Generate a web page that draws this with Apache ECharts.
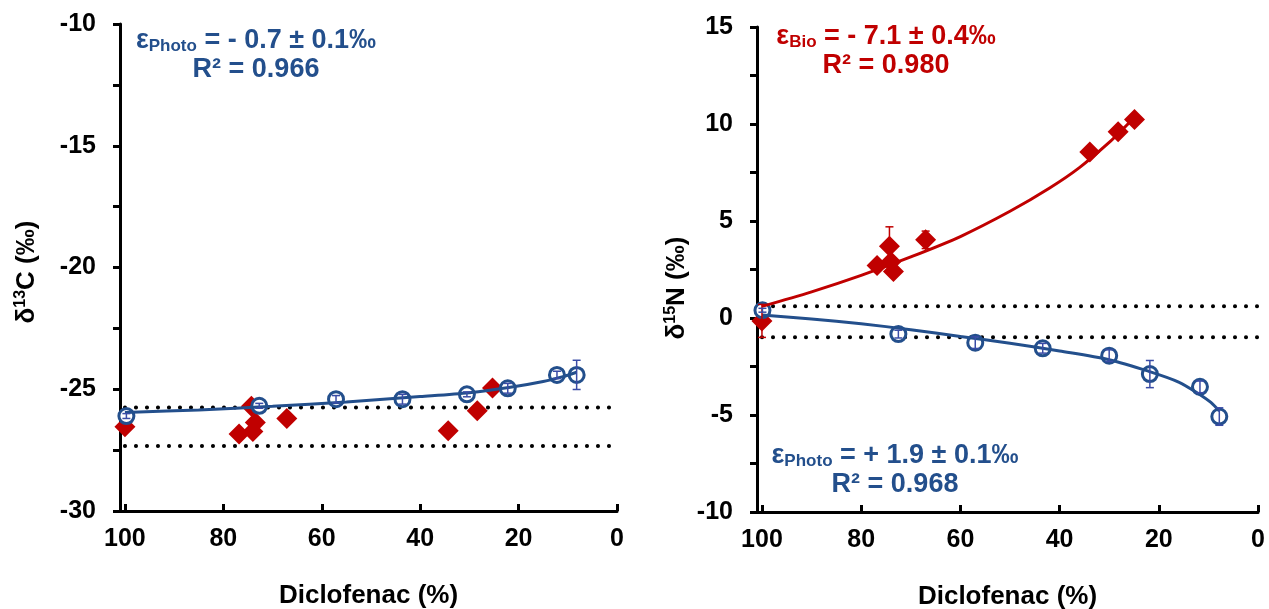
<!DOCTYPE html>
<html>
<head>
<meta charset="utf-8">
<script src="https://cdn.jsdelivr.net/npm/echarts@6/dist/echarts.min.js"></script>
<style>
  html, body { margin: 0; padding: 0; background: #fff; }
  #chart { width: 1269px; height: 609px; }
</style>
</head>
<body>
<div id="chart"></div>
<script>
// ---- δ13C panel (left) ----
const cPhotoX   = [99.7, 72.7, 57.1, 43.6, 30.5, 22.2, 12.2, 8.2];
const cPhotoY   = [-26.1, -25.68, -25.41, -25.41, -25.21, -24.96, -24.41, -24.41];
const cPhotoErr = [0.1, 0.1, 0.15, 0.2, 0.1, 0.2, 0.15, 0.6];
const cBioX     = [100, 76.8, 74.3, 73.5, 74.0, 67.1, 34.3, 28.4, 25.3];
const cBioY     = [-26.54, -26.84, -25.7, -26.37, -26.74, -26.2, -26.7, -25.88, -24.95];
const cFitX     = [100, 85, 70, 55, 40, 30, 22, 15, 11, 8.2];
const cFitY     = [-25.95, -25.85, -25.7, -25.52, -25.3, -25.14, -24.93, -24.68, -24.48, -24.3];
const cRefLines = [-25.75, -27.33];

// ---- δ15N panel (right) ----
const nPhotoX   = [99.9, 72.5, 57.0, 43.4, 30.0, 21.8, 11.7, 7.8];
const nPhotoY   = [0.4, -0.83, -1.27, -1.56, -1.94, -2.89, -3.55, -5.08];
const nPhotoErr = [0.1, 0.2, 0.3, 0.25, 0.3, 0.7, 0.3, 0.45];
const nBioX     = [100, 76.8, 74.3, 74.0, 73.5, 67.0, 33.9, 28.2, 24.9];
const nBioY     = [-0.15, 2.7, 3.7, 2.9, 2.4, 4.03, 8.56, 9.6, 10.23];
const nBioErr   = [0.85, 0, 1.0, 0.26, 0, 0.45, 0, 0, 0];
const nBioFitX  = [100, 90, 80, 70, 60, 50, 42, 36, 30, 27, 24.9];
const nBioFitY  = [0.6, 1.35, 2.2, 3.15, 4.2, 5.5, 6.7, 7.75, 9.05, 9.8, 10.35];
const nPhoFitX  = [100, 90, 80, 70, 60, 50, 40, 30, 22, 16, 12, 9.5, 7.8];
const nPhoFitY  = [0.15, -0.05, -0.3, -0.6, -0.95, -1.3, -1.7, -2.15, -2.75, -3.3, -3.9, -4.35, -4.8];
const nRefLines = [0.61, -0.99];

// ---- shared axis ticks ----
const xTickValues = [0, 20, 40, 60, 80, 100];
const refSpan = [100, 0];

const FONT = "'Liberation Sans', Arial, sans-serif";
const BLUE = '#234f8c';
const BAR_BLUE = '#3a4ca6';
const RED = '#c00000';

const zip = (xs, ys, es) => xs.map((x, i) => es ? [x, ys[i], es[i]] : [x, ys[i]]);

function xAxisFor(grid) {
  return {
    gridIndex: grid, type: 'value', inverse: true, min: 0, max: 101, interval: 20,
    axisLine: { show: true, onZero: false, lineStyle: { color: '#000', width: 3 } },
    axisTick: { show: true, inside: true, length: 7, lineStyle: { color: '#000', width: 3 }, customValues: xTickValues },
    axisLabel: { customValues: xTickValues, fontSize: 25, fontWeight: 'bold', color: '#000', margin: 16, fontFamily: FONT },
    splitLine: { show: false },
    name: 'Diclofenac (%)', nameLocation: 'middle', nameGap: 72,
    nameTextStyle: { fontSize: 26, fontWeight: 'bold', color: '#000', fontFamily: FONT }
  };
}

function yAxisFor(grid, min, max) {
  return {
    gridIndex: grid, type: 'value', min: min, max: max, interval: 5,
    axisLine: { show: true, onZero: false, lineStyle: { color: '#000', width: 3 } },
    axisTick: { show: true, inside: false, length: 7, lineStyle: { color: '#000', width: 3 } },
    minorTick: { show: true, splitNumber: 2, length: 7, lineStyle: { color: '#000', width: 3 } },
    axisLabel: { fontSize: 25, fontWeight: 'bold', color: '#000', margin: 24, fontFamily: FONT },
    splitLine: { show: false }, minorSplitLine: { show: false }
  };
}

function errorBars(idx, data, color) {
  return {
    type: 'custom', xAxisIndex: idx, yAxisIndex: idx, z: 6,
    encode: { x: 0, y: 1 },
    data: data.filter(d => d[2] > 0),
    renderItem: (params, api) => {
      const x = api.value(0), y = api.value(1), e = api.value(2);
      const lo = api.coord([x, y - e]);
      const hi = api.coord([x, y + e]);
      const w = 4;
      const st = { stroke: color, lineWidth: 1.5 };
      return {
        type: 'group',
        children: [
          { type: 'line', shape: { x1: lo[0], y1: lo[1], x2: hi[0], y2: hi[1] }, style: st },
          { type: 'line', shape: { x1: lo[0] - w, y1: lo[1], x2: lo[0] + w, y2: lo[1] }, style: st },
          { type: 'line', shape: { x1: hi[0] - w, y1: hi[1], x2: hi[0] + w, y2: hi[1] }, style: st }
        ]
      };
    }
  };
}

function refLine(idx, yv) {
  return {
    type: 'line', xAxisIndex: idx, yAxisIndex: idx, z: 1, silent: true,
    symbol: 'none', data: refSpan.map(x => [x, yv]),
    lineStyle: { color: '#000', width: 4, type: [0.1, 10.9], cap: 'round' }
  };
}

function fitLine(idx, xs, ys, color) {
  return {
    type: 'line', xAxisIndex: idx, yAxisIndex: idx, z: 5,
    smooth: 0.3,
    symbol: 'none', data: zip(xs, ys),
    lineStyle: { color: color, width: 3 }
  };
}

function circles(idx, xs, ys) {
  return {
    type: 'scatter', xAxisIndex: idx, yAxisIndex: idx, z: 4,
    symbol: 'circle', symbolSize: 15, data: zip(xs, ys),
    itemStyle: { color: '#fff', borderColor: BLUE, borderWidth: 3, opacity: 1 }
  };
}

function diamonds(idx, xs, ys) {
  return {
    type: 'scatter', xAxisIndex: idx, yAxisIndex: idx, z: 3,
    symbol: 'diamond', symbolSize: 21, data: zip(xs, ys),
    itemStyle: { color: RED, opacity: 1 }
  };
}

function richFor(color, size) {
  return {
    g: { fontSize: size, fontWeight: 'bold', lineHeight: 29, fill: color, fontFamily: FONT },
    s: { fontSize: Math.round(size * 0.64), fontWeight: 'bold', lineHeight: 16, verticalAlign: 'bottom', fill: color, fontFamily: FONT },
    u: { fontSize: Math.round(size * 0.62), fontWeight: 'bold', lineHeight: 15, verticalAlign: 'top', fill: color, fontFamily: FONT }
  };
}

function note(x, y, text, color) {
  return {
    type: 'text', x: x, y: y, z: 10,
    style: { text: text, align: 'center', verticalAlign: 'top', fill: color, rich: richFor(color, 27) }
  };
}

function axisTitle(x, y, text) {
  return {
    type: 'text', x: x, y: y, rotation: Math.PI / 2, z: 10,
    style: { text: text, align: 'center', verticalAlign: 'middle', fill: '#000', rich: richFor('#000', 26) }
  };
}

const chart = echarts.init(document.getElementById('chart'), null, { renderer: 'canvas' });

chart.setOption({
  animation: false,
  backgroundColor: '#fff',
  grid: [
    { left: 120, top: 24, width: 497, height: 487, outerBoundsMode: 'none' },
    { left: 757, top: 27, width: 501, height: 485, outerBoundsMode: 'none' }
  ],
  xAxis: [xAxisFor(0), xAxisFor(1)],
  yAxis: [yAxisFor(0, -30, -10), yAxisFor(1, -10, 15)],
  series: [
    ...cRefLines.map(v => refLine(0, v)),
    diamonds(0, cBioX, cBioY),
    circles(0, cPhotoX, cPhotoY),
    fitLine(0, cFitX, cFitY, BLUE),
    errorBars(0, zip(cPhotoX, cPhotoY, cPhotoErr), BAR_BLUE),

    ...nRefLines.map(v => refLine(1, v)),
    diamonds(1, nBioX, nBioY),
    circles(1, nPhotoX, nPhotoY),
    fitLine(1, nBioFitX, nBioFitY, RED),
    fitLine(1, nPhoFitX, nPhoFitY, BLUE),
    errorBars(1, zip(nBioX, nBioY, nBioErr), RED),
    errorBars(1, zip(nPhotoX, nPhotoY, nPhotoErr), BAR_BLUE)
  ],
  graphic: [
    note(256, 26, '{g|ε}{s|Photo}{g| = - 0.7 ± 0.1‰}\n{g|R² = 0.966}', BLUE),
    note(886, 22, '{g|ε}{s|Bio}{g| = - 7.1 ± 0.4‰}\n{g|R² = 0.980}', RED),
    note(895, 441, '{g|ε}{s|Photo}{g| = + 1.9 ± 0.1‰}\n{g|R² = 0.968}', BLUE),
    axisTitle(27, 272, '{g|δ}{u|13}{g|C (‰)}'),
    axisTitle(677, 288, '{g|δ}{u|15}{g|N (‰)}')
  ]
});
</script>
</body>
</html>
